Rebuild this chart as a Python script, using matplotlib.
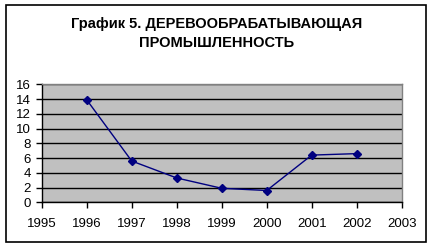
import matplotlib
matplotlib.use("Agg")
import matplotlib.pyplot as plt
from matplotlib.patches import Rectangle

# data
years = [1996, 1997, 1998, 1999, 2000, 2001, 2002]
values = [13.9, 5.6, 3.3, 1.9, 1.6, 6.4, 6.6]
x_ticks = list(range(1995, 2004))
y_ticks = list(range(0, 17, 2))
title = "График 5. ДЕРЕВООБРАБАТЫВАЮЩАЯ\nПРОМЫШЛЕННОСТЬ"

plt.rcParams['font.family'] = ['Liberation Sans', 'DejaVu Sans']

fig = plt.figure(figsize=(4.33, 2.48), dpi=100)
W, H = 433, 248
ax = fig.add_axes([41.7 / W, 1 - 202.3 / H, 360 / W, 118 / H])

# outer chart border
fig.patches.append(Rectangle((6 / W, 1 - 242 / H), 420 / W, 237 / H,
                             transform=fig.transFigure, fill=False,
                             edgecolor='black', linewidth=1.2))

ax.set_facecolor('#C0C0C0')
ax.plot(years, values, color='#000080', linewidth=1, marker='D', markersize=4, zorder=3)

ax.set_xlim(1995, 2003)
ax.set_ylim(0, 16)
ax.set_xticks(x_ticks)
ax.set_yticks(y_ticks)
ax.tick_params(labelsize=9.5, length=4, width=1, direction='out', colors='black')
ax.tick_params(axis='x', pad=7)
ax.tick_params(axis='y', pad=4)
ax.grid(axis='y', color='black', linewidth=1)
ax.set_axisbelow(True)

for side in ['top', 'right']:
    ax.spines[side].set_color('#808080')
    ax.spines[side].set_linewidth(1)
for side in ['left', 'bottom']:
    ax.spines[side].set_color('black')
    ax.spines[side].set_linewidth(1)

fig.text(0.5, 1 - 33.5 / H, title, ha='center', va='center', fontsize=10.5,
         fontweight='bold', linespacing=1.45)

fig.savefig('out.png', dpi=100)
